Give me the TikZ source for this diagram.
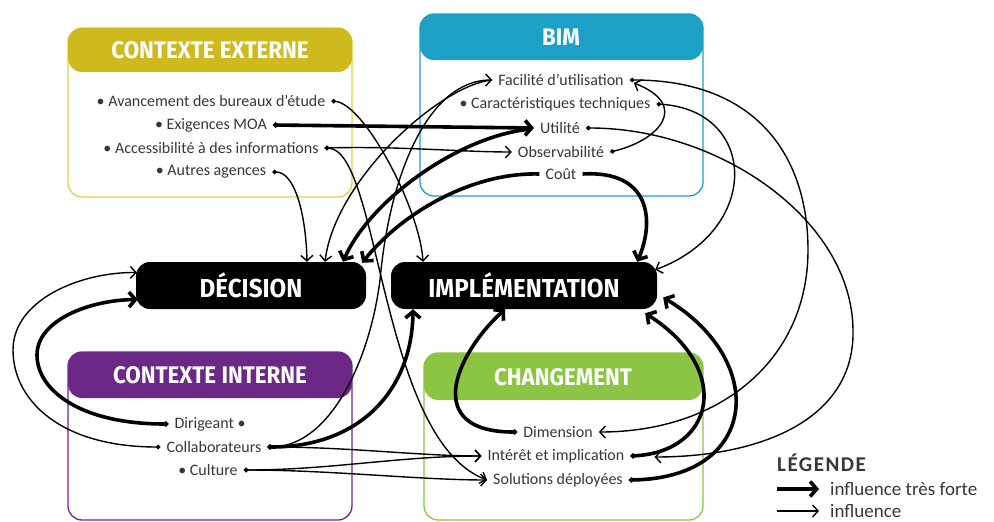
\documentclass[tikz,border=0pt]{standalone}
\usepackage{fontspec}
\setmainfont{Carlito}
\newfontfamily\hdrfont[FakeStretch=0.93]{Fira Sans}
\usetikzlibrary{arrows.meta,calc}
\definecolor{ceY}{RGB}{207,186,30}
\definecolor{ceYb}{RGB}{222,208,72}
\definecolor{bimB}{RGB}{28,160,198}
\definecolor{ciP}{RGB}{108,40,135}
\definecolor{chG}{RGB}{140,196,68}
\definecolor{itemc}{RGB}{55,55,55}
\tikzset{
  item/.style={font=\fontsize{16}{18}\selectfont, text=itemc, inner xsep=6pt, inner ysep=0pt, anchor=center},
  hdrtext/.style={font=\hdrfont\bfseries\fontsize{24}{26}\selectfont, text=white},
  blk/.style={fill=black, rounded corners=14pt, text=white, font=\hdrfont\bfseries\fontsize{26}{28}\selectfont, minimum height=47pt, inner sep=0pt},
  infl/.style={line width=1.4pt, {Circle[length=4.5pt]}-{Straight Barb[length=5.5pt,width=12pt]}},
  inflnd/.style={line width=1.4pt, -{Straight Barb[length=5.5pt,width=12pt]}},
  strong/.style={line width=3.6pt, {Circle[length=5pt]}-{Straight Barb[length=6.5pt,width=15pt]}},
  strongnd/.style={line width=3.6pt, -{Straight Barb[length=6.5pt,width=15pt]}},
  legtext/.style={font=\fontsize{19}{21}\selectfont, text=itemc, anchor=west, inner sep=0pt},
}
\begin{document}
\begin{tikzpicture}[x=1pt,y=-1pt]
\useasboundingbox (0,0) rectangle (994,522);
% ---------- group boxes ----------
\draw[ceYb, line width=1.3pt, rounded corners=14pt] (68,28) rectangle (352,197);
\fill[ceY, rounded corners=14pt] (68,28) rectangle (352,72);
\node[hdrtext] (hce) at (210,50) {CONTEXTE EXTERNE};
\draw[bimB, line width=1.3pt, rounded corners=14pt] (420,14) rectangle (703,196);
\fill[bimB, rounded corners=14pt] (420,14) rectangle (703,60);
\node[hdrtext] (hbim) at (561,37) {BIM};
\draw[ciP, line width=1.3pt, rounded corners=14pt] (68,352) rectangle (352,520);
\fill[ciP, rounded corners=14pt] (68,352) rectangle (352,398);
\node[hdrtext] (hci) at (210,375) {CONTEXTE INTERNE};
\draw[chG, line width=1.3pt, rounded corners=14pt] (424,353) rectangle (703,520);
\fill[chG, rounded corners=14pt] (424,353) rectangle (703,400);
\node[hdrtext] (hch) at (563,377) {CHANGEMENT};
% ---------- main nodes ----------
\node[blk, minimum width=230pt] (dec) at (251,285.5) {DÉCISION};
\node[blk, minimum width=266pt] (imp) at (524,285.5) {IMPLÉMENTATION};
% ---------- items ----------
\node[item] (ave) at (211,101) {• Avancement des bureaux d’étude};
\node[item] (moa) at (211,125) {• Exigences MOA};
\node[item] (acc) at (211,148) {• Accessibilité à des informations};
\node[item] (aut) at (211,172) {• Autres agences};
\node[item] (fac) at (561,80) {Facilité d’utilisation};
\node[item] (car) at (555,104) {• Caractéristiques techniques};
\node[item] (uti) at (560,128) {Utilité};
\node[item] (obs) at (561,152) {Observabilité};
\node[item] (cou) at (561,174) {Coût};
\node[item] (dir) at (210,424) {Dirigeant •};
\node[item] (col) at (214,447) {Collaborateurs};
\node[item] (cul) at (208,470) {• Culture};
\node[item] (dim) at (558,432) {Dimension};
\node[item] (int) at (556,456) {Intérêt et implication};
\node[item] (sol) at (558,480) {Solutions déployées};
% ---------- connectors: contexte externe ----------
\draw[infl] (ave.east) .. controls (365,104) and (420,210) .. ($(imp.north)+(-101,0)$);
\draw[strong] (moa.east) -- (uti.west);
\draw[infl] (acc.east) .. controls (400,146) and (460,152) .. (obs.west);
\draw[infl] (acc.east) .. controls (380,150) and (380,440) .. (sol.west);
\draw[infl] (aut.east) .. controls (295,172) and (306,215) .. ($(dec.north)+(56,0)$);
% ---------- connectors: BIM ----------
\draw[inflnd] (fac.west) .. controls (440,85) and (335,180) .. ($(dec.north)+(74,0)$);
\draw[strongnd] ($(uti.west)+(-2,1)$) .. controls (460,135) and (370,200) .. ($(dec.north)+(92,0)$);
\draw[strongnd] (cou.west) .. controls (470,172) and (400,215) .. ($(dec.north east)+(-4,1)$);
\draw[strongnd] (cou.east) .. controls (650,170) and (655,220) .. ($(imp.north east)+(-20,0)$);
\draw[infl] (car.east) .. controls (758,110) and (762,230) .. ($(imp.north east)+(-2,8)$);
\draw[infl] (fac.east) .. controls (760,80) and (808,160) .. (808,250) .. controls (808,360) and (720,432) .. (dim.east);
\draw[infl] (uti.east) .. controls (720,128) and (852,220) .. (853,330) .. controls (855,420) and (760,457) .. ($(int.east)+(24,1)$);
\draw[infl] (obs.east) .. controls (660,140) and (690,105) .. ($(fac.east)+(4,3)$);
% ---------- connectors: changement ----------
\draw[strong] (dim.west) .. controls (422,432) and (455,355) .. ($(imp.south)+(-19,0)$);
\draw[strong] (int.east) .. controls (714,452) and (734,370) .. ($(imp.south east)+(-12,4)$);
\draw[strong] (sol.east) .. controls (760,478) and (768,360) .. ($(imp.east)+(6,12)$);
% ---------- connectors: contexte interne ----------
\draw[infl] (col.east) .. controls (330,447) and (370,360) .. (380,280) .. controls (390,170) and (430,80) .. (fac.west);
\draw[strong] (col.east) .. controls (360,447) and (412,390) .. ($(imp.south)+(-111,0)$);
\draw[infl] (col.east) .. controls (350,447) and (420,456) .. (int.west);
\draw[infl] (cul.east) .. controls (330,470) and (400,456) .. (int.west);
\draw[infl] (cul.east) .. controls (330,470) and (420,480) .. (sol.west);
\draw[strong] (dir.west) .. controls (80,424) and (37,390) .. (37,355) .. controls (37,320) and (90,300) .. ($(dec.west)+(2,14)$);
\draw[infl] (col.west) .. controls (60,447) and (13,400) .. (13,350) .. controls (13,300) and (80,272) .. ($(dec.west)+(1,-13)$);
% ---------- legend ----------
\node[font=\bfseries\fontsize{21}{23}\selectfont\addfontfeatures{LetterSpace=7}, text=itemc, anchor=west, inner sep=0pt] (lg) at (777,463) {LÉGENDE};
\coordinate (l1a) at (777,489); \coordinate (l1b) at (819,489);
\coordinate (l2a) at (777,511); \coordinate (l2b) at (819,511);
\draw[strongnd] (l1a) -- (l1b);
\draw[inflnd] (l2a) -- (l2b);
\node[legtext] (lt1) at (830,489) {influence très forte};
\node[legtext] (lt2) at (830,511) {influence};
\end{tikzpicture}
\end{document}
